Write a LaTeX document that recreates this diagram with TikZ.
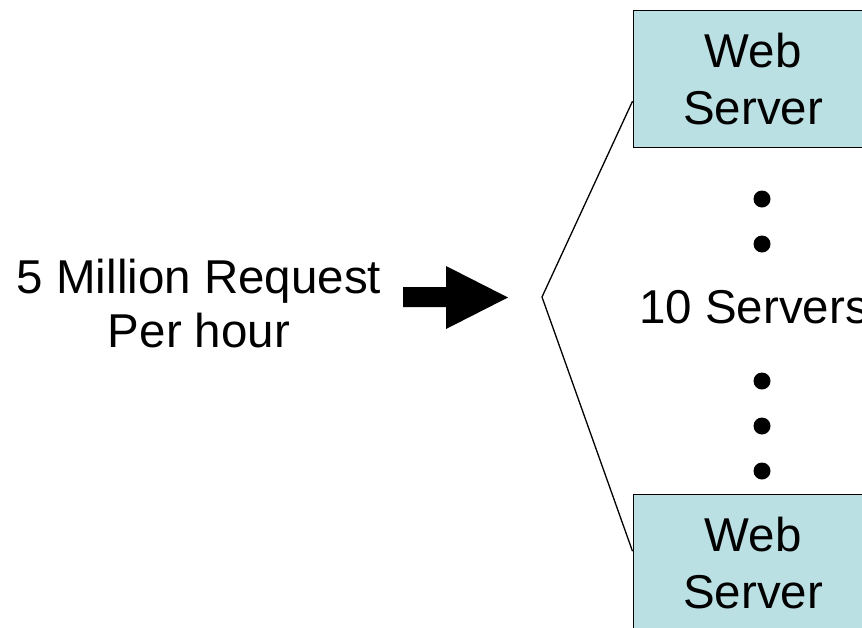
\documentclass[tikz,border=0pt]{standalone}
\usepackage{fontspec}
\setmainfont{Liberation Sans}
\definecolor{serverfill}{RGB}{187,224,227}
\begin{document}
\begin{tikzpicture}[x=1pt,y=-1pt,
  server/.style={draw=black, line width=1.5pt, fill=serverfill,
    minimum width=240pt, minimum height=137pt, inner sep=0pt,
    align=center, anchor=north west,
    font=\fontsize{47.5}{57}\selectfont},
  label/.style={inner sep=0pt, align=center,
    font=\fontsize{47.5}{54}\selectfont},
  fan/.style={draw=black, line width=1.3pt},
  dot/.style={circle, fill=black, minimum size=17pt, inner sep=0pt}]
\useasboundingbox (0,0) rectangle (862,627);
\clip (0,0) rectangle (862,627);

% server boxes (run off the right and bottom edges)
\node[server] (ws1) at (632.5,9.5) {Web\\Server};
\node[server] (ws2) at (632.5,493.5) {Web\\Server};

% incoming load
\node[label] (load) at (199,304) {5 Million Request\\Per hour};

% block arrow towards the fan-out point
\coordinate (tip) at (508,297.5);
\fill[black] (403,287) -- (446,287) -- (446,266) -- (tip)
  -- (446,329) -- (446,307) -- (403,307) -- cycle;

% fan-out to the first and last server
\coordinate (apex) at (542,297);
\draw[fan] ([yshift=-22.5pt]ws1.west) -- (apex) -- ([yshift=11.5pt]ws2.west);

% the servers in between
\node[dot] (d1) at (762,199) {};
\node[dot] (d2) at (762,244) {};
\node[label, anchor=base west] (count) at (639,323) {10 Servers};
\node[dot] (d3) at (762,381) {};
\node[dot] (d4) at (762,426) {};
\node[dot] (d5) at (762,471) {};
\end{tikzpicture}
\end{document}
